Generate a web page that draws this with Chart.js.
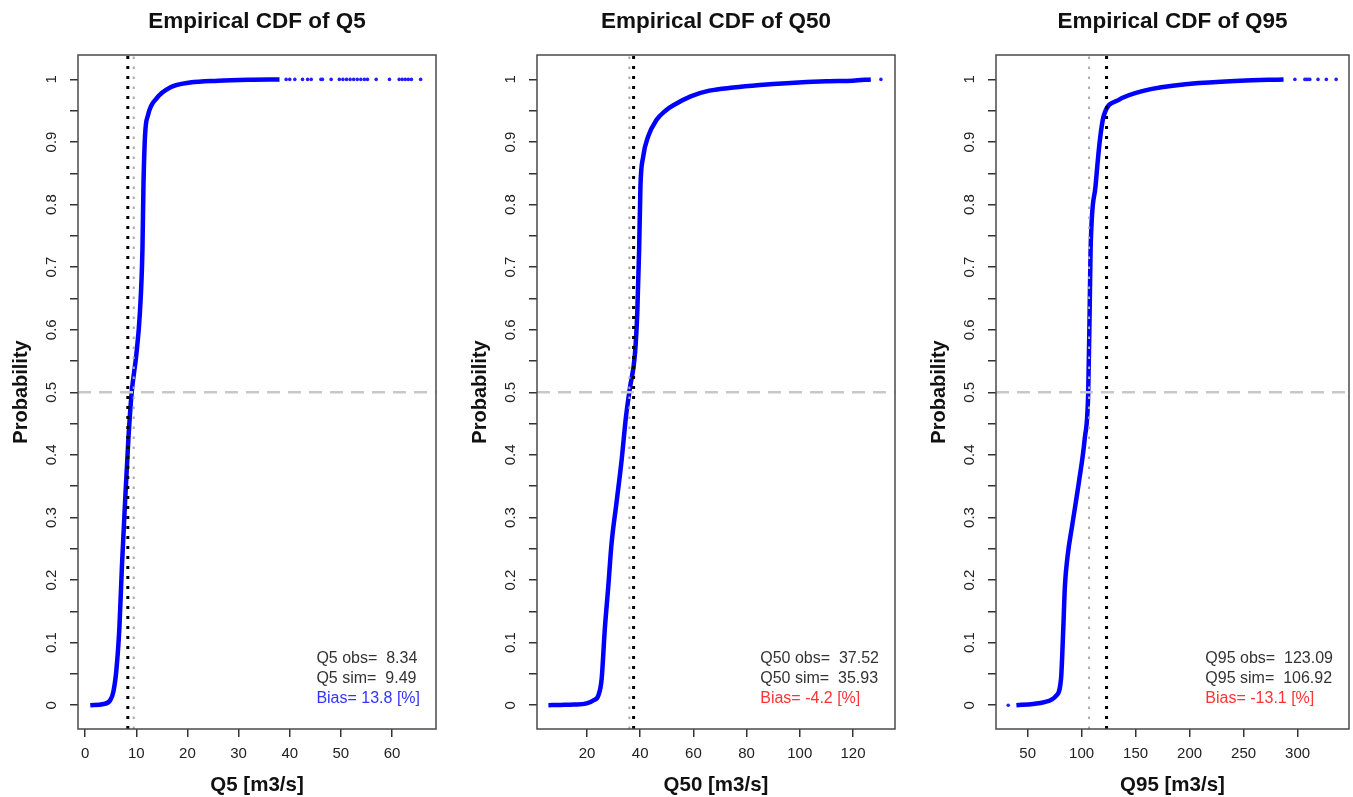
<!DOCTYPE html>
<html>
<head>
<meta charset="utf-8">
<script src="https://cdn.jsdelivr.net/npm/chart.js@4.4.0/dist/chart.umd.min.js"></script>
<style>
body { margin: 0; background: #fff; width: 1353px; height: 797px; overflow: hidden; position: relative; }
.panel { position: absolute; top: 0; height: 797px; }
</style>
</head>
<body>
<div class="panel" style="left:0px;width:451px"><canvas id="c1" width="451" height="797"></canvas></div>
<div class="panel" style="left:459px;width:443px"><canvas id="c2" width="443" height="797"></canvas></div>
<div class="panel" style="left:918px;width:435px"><canvas id="c3" width="435" height="797"></canvas></div>
<script>
// probability axis, shared by the three panels
var prob_ticks = [0, 0.05, 0.1, 0.15, 0.2, 0.25, 0.3, 0.35, 0.4, 0.45, 0.5, 0.55, 0.6, 0.65, 0.7, 0.75, 0.8, 0.85, 0.9, 0.95, 1];
var prob_range = [-0.038, 1.039];

// Q5
var q5_x = [1.0, 3.6, 4.9, 5.5, 6.1, 6.7, 7.2, 7.8, 8.45, 9.1, 10.0, 10.7, 11.2, 11.4, 11.7, 12.3, 14.0, 16.6, 20.5, 26.0, 32.0, 38.0];
var q5_p = [0.000, 0.002, 0.008, 0.021, 0.056, 0.125, 0.224, 0.324, 0.425, 0.500, 0.560, 0.627, 0.728, 0.830, 0.909, 0.943, 0.970, 0.987, 0.995, 0.998, 0.9995, 1.000];
var q5_tail_x = [39.3, 40.0, 41.0, 42.5, 43.5, 44.2, 46.1, 46.4, 48.1, 49.7, 50.4, 51.1, 51.8, 52.5, 53.2, 53.9, 54.6, 55.2, 56.9, 59.5, 61.4, 62.0, 62.6, 63.2, 63.8, 65.6];
var q5_tail_p = [1, 1, 1, 1, 1, 1, 1, 1, 1, 1, 1, 1, 1, 1, 1, 1, 1, 1, 1, 1, 1, 1, 1, 1, 1, 1];
var q5_ticks = [0, 10, 20, 30, 40, 50, 60];
var q5_range = [-1.4, 68.6];
var q5_obs = 8.34, q5_sim = 9.49;
var q5_text = ['Q5 obs=  8.34', 'Q5 sim=  9.49', 'Bias= 13.8 [%]'];

// Q50
var q50_x = [5.5, 10.0, 14.9, 19.9, 22.5, 24.3, 25.5, 26.7, 28.0, 29.2, 31.1, 33.0, 34.6, 36.1, 38.0, 38.9, 39.6, 40.1, 41.1, 43.0, 46.1, 49.5, 53.0, 59.0, 66.0, 75.0, 85.0, 95.0, 110.0, 120.0, 126.7];
var q50_p = [0.000, 0.0005, 0.001, 0.003, 0.008, 0.016, 0.042, 0.122, 0.190, 0.257, 0.324, 0.391, 0.459, 0.506, 0.560, 0.627, 0.728, 0.830, 0.876, 0.909, 0.935, 0.950, 0.960, 0.973, 0.982, 0.987, 0.991, 0.994, 0.997, 0.998, 1.000];
var q50_tail_x = [130.5];
var q50_tail_p = [1];
var q50_ticks = [20, 40, 60, 80, 100, 120];
var q50_range = [1.2, 135.8];
var q50_obs = 37.52, q50_sim = 35.93;
var q50_text = ['Q50 obs=  37.52', 'Q50 sim=  35.93', 'Bias= -4.2 [%]'];

// Q95
var q95_x = [39.6, 55.0, 65.6, 76.3, 80.9, 83.0, 84.5, 86.9, 91.5, 97.6, 102.8, 106.1, 107.4, 108.3, 112.9, 116.7, 120.5, 134.0, 158.0, 201.0, 247.0, 287.0];
var q95_p = [0.000, 0.002, 0.005, 0.015, 0.042, 0.122, 0.190, 0.237, 0.290, 0.358, 0.425, 0.500, 0.627, 0.728, 0.830, 0.900, 0.942, 0.967, 0.982, 0.993, 0.998, 1.000];
var q95_tail_x = [32.0, 297.5, 306.7, 308.2, 309.7, 311.3, 318.9, 326.6, 335.7];
var q95_tail_p = [0, 1, 1, 1, 1, 1, 1, 1, 1];
var q95_ticks = [50, 100, 150, 200, 250, 300];
var q95_range = [20.7, 347.6];
var q95_obs = 123.09, q95_sim = 106.92;
var q95_text = ['Q95 obs=  123.09', 'Q95 sim=  106.92', 'Bias= -13.1 [%]'];

var FONT = '"Liberation Sans", Arial, Helvetica, sans-serif';

function pts(xs, ys) {
	var out = [];
	for (var i = 0; i < xs.length; i++) out.push({x: xs[i], y: ys[i]});
	return out;
}

function makePanel(id, d) {
	// box round the plot region + the bottom-right stats text
	var boxPlugin = {
		id: 'box',
		afterDraw: function(chart) {
			var a = chart.chartArea, ctx = chart.ctx;
			ctx.save();
			ctx.strokeStyle = '#4a4a4a';
			ctx.lineWidth = 1.5;
			ctx.strokeRect(a.left, a.top, a.right - a.left, a.bottom - a.top);

			ctx.font = '16px ' + FONT;
			ctx.textBaseline = 'middle';
			ctx.textAlign = 'left';
			var w = 0;
			d.text.forEach(function(t){ w = Math.max(w, ctx.measureText(t).width); });
			var left = a.right - 16 - w;
			for (var i = 0; i < d.text.length; i++) {
				ctx.fillStyle = i == 2 ? d.biasColor : '#333';
				ctx.fillText(d.text[i], left, a.bottom - 70 + i * 20);
			}
			ctx.restore();
		}
	};

	new Chart(document.getElementById(id), {
		type: 'scatter',
		data: {
			datasets: [
				{
					data: [{x: d.obs, y: prob_range[0]}, {x: d.obs, y: prob_range[1]}],
					showLine: true, borderColor: '#000', borderWidth: 3, borderDash: [3, 7],
					pointRadius: 0, order: 1
				},
				{
					data: [{x: d.sim, y: prob_range[0]}, {x: d.sim, y: prob_range[1]}],
					showLine: true, borderColor: '#aaaaaa', borderWidth: 2, borderDash: [2.5, 7.5],
					pointRadius: 0, order: 2
				},
				{
					data: [{x: d.range[0], y: 0.5}, {x: d.range[1], y: 0.5}],
					showLine: true, borderColor: '#c8c8c8', borderWidth: 2.5, borderDash: [13, 8],
					pointRadius: 0, order: 3
				},
				{
					data: pts(d.tailX, d.tailP),
					pointRadius: 1.8, pointBackgroundColor: '#2020ff', pointBorderWidth: 0, order: 4
				},
				{
					data: pts(d.x, d.p),
					showLine: true, borderColor: '#0000ff', borderWidth: 4.5,
					cubicInterpolationMode: 'monotone', pointRadius: 0, order: 5
				}
			]
		},
		options: {
			responsive: false,
			animation: false,
			devicePixelRatio: 1,
			layout: {padding: {left: 0, right: d.padRight, top: 0, bottom: 0}},
			plugins: {
				legend: {display: false},
				tooltip: {enabled: false},
				title: {
					display: true, text: d.title, color: '#111',
					fullSize: false,   // centre it over the plot box, like R's main=
					font: {size: 22.5, weight: 'bold', family: FONT},
					padding: {top: 8, bottom: 20}
				}
			},
			scales: {
				x: {
					type: 'linear', min: d.range[0], max: d.range[1], bounds: 'data',
					afterBuildTicks: function(s) { s.ticks = d.ticks.map(function(v){ return {value: v}; }); },
					afterFit: function(s) { s.height = 68; },
					grid: {drawOnChartArea: false, drawTicks: true, tickLength: 8, color: '#333', lineWidth: 1.5},
					border: {display: false},
					ticks: {
						autoSkip: false, maxRotation: 0, padding: 8, color: '#222',
						font: {size: 15, family: FONT},
						callback: function(v) { return String(v); }
					},
					title: {
						display: true, text: d.xlabel, color: '#111',
						font: {size: 20.5, weight: 'bold', family: FONT, lineHeight: 1},
						padding: {top: 0, bottom: 1}
					}
				},
				y: {
					type: 'linear', min: prob_range[0], max: prob_range[1], bounds: 'data',
					afterBuildTicks: function(s) { s.ticks = prob_ticks.map(function(v){ return {value: v}; }); },
					afterFit: function(s) { s.width = 78; },
					grid: {drawOnChartArea: false, drawTicks: true, tickLength: 8, color: '#333', lineWidth: 1.5},
					border: {display: false},
					ticks: {
						autoSkip: false, minRotation: 90, maxRotation: 90, crossAlign: 'center',
						padding: 8, color: '#222', font: {size: 15, family: FONT},
						callback: function(v) {
							var t = v * 10;
							if (Math.abs(t - Math.round(t)) > 1e-6) return '';
							return String(Math.round(t) / 10);
						}
					},
					title: {
						display: true, text: 'Probability', color: '#111',
						font: {size: 20, weight: 'bold', family: FONT},
						padding: {top: 9, bottom: 0}
					}
				}
			}
		},
		plugins: [boxPlugin]
	});
}

makePanel('c1', {
	title: 'Empirical CDF of Q5', xlabel: 'Q5 [m3/s]',
	x: q5_x, p: q5_p, tailX: q5_tail_x, tailP: q5_tail_p,
	ticks: q5_ticks, range: q5_range, obs: q5_obs, sim: q5_sim,
	text: q5_text, biasColor: '#3333ff', padRight: 15
});
makePanel('c2', {
	title: 'Empirical CDF of Q50', xlabel: 'Q50 [m3/s]',
	x: q50_x, p: q50_p, tailX: q50_tail_x, tailP: q50_tail_p,
	ticks: q50_ticks, range: q50_range, obs: q50_obs, sim: q50_sim,
	text: q50_text, biasColor: '#ff3333', padRight: 7
});
makePanel('c3', {
	title: 'Empirical CDF of Q95', xlabel: 'Q95 [m3/s]',
	x: q95_x, p: q95_p, tailX: q95_tail_x, tailP: q95_tail_p,
	ticks: q95_ticks, range: q95_range, obs: q95_obs, sim: q95_sim,
	text: q95_text, biasColor: '#ff3333', padRight: 1
});
</script>
</body>
</html>
